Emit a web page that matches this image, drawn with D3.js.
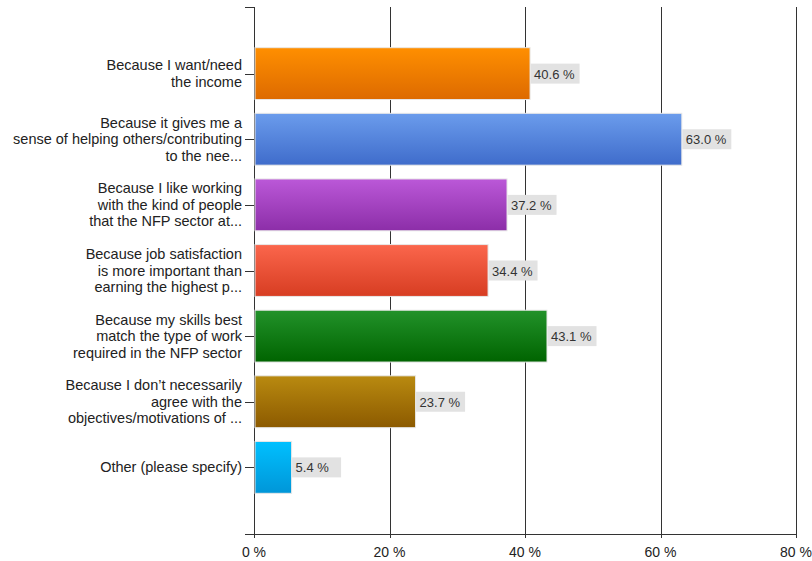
<!DOCTYPE html>
<html>
<head>
<meta charset="utf-8">
<script src="https://cdn.jsdelivr.net/npm/d3@7"></script>
<style>
  html, body { margin: 0; padding: 0; background: #fff; }
  svg { display: block; font-family: "Liberation Sans", Arial, sans-serif; }
</style>
</head>
<body>
<svg id="chart" width="812" height="561"></svg>
<script>
const categories = [
  ["Because I want/need", "the income"],
  ["Because it gives me a", "sense of helping others/contributing", "to the nee..."],
  ["Because I like working", "with the kind of people", "that the NFP sector at..."],
  ["Because job satisfaction", "is more important than", "earning the highest p..."],
  ["Because my skills best", "match the type of work", "required in the NFP sector"],
  ["Because I don\u2019t necessarily", "agree with the", "objectives/motivations of ..."],
  ["Other (please specify)"]
];
const values = [40.6, 63.0, 37.2, 34.4, 43.1, 23.7, 5.4];
const xTicks = [0, 20, 40, 60, 80];
const colorTop = ["#ff8f00", "#6b9cec", "#bb58d8", "#fb664c", "#22922a", "#b98a10", "#00c0ff"];
const colorBottom = ["#dd6a00", "#3f6ccb", "#8c2ea8", "#d73d22", "#006400", "#8c5a00", "#0096d8"];

const svg = d3.select("#chart");
const pLeft = 254, pRight = 796, pTop = 7, pBottom = 534;

const x = d3.scaleLinear().domain([0, 80]).range([pLeft, pRight]);
const y = d3.scaleBand().domain(d3.range(categories.length)).range([pTop, pBottom])
  .paddingInner(0.21).paddingOuter(0.62);

// gradients
const defs = svg.append("defs");
values.forEach((v, i) => {
  const g = defs.append("linearGradient").attr("id", "g" + i)
    .attr("x1", 0).attr("y1", 0).attr("x2", 0).attr("y2", 1);
  g.append("stop").attr("offset", "0%").attr("stop-color", colorTop[i]);
  g.append("stop").attr("offset", "100%").attr("stop-color", colorBottom[i]);
});

// vertical gridlines
svg.append("g").selectAll("line").data(xTicks).join("line")
  .attr("x1", d => Math.round(x(d)) + 0.5).attr("x2", d => Math.round(x(d)) + 0.5)
  .attr("y1", pTop).attr("y2", pBottom + 4)
  .attr("stroke", "#333").attr("stroke-width", 1);

// x axis baseline
svg.append("line").attr("x1", pLeft - 9).attr("x2", pRight).attr("y1", pBottom + 0.5).attr("y2", pBottom + 0.5)
  .attr("stroke", "#333");
// top tick on y axis
svg.append("line").attr("x1", pLeft - 9).attr("x2", pLeft).attr("y1", pTop + 0.5).attr("y2", pTop + 0.5)
  .attr("stroke", "#333");

// x tick labels
svg.append("g").selectAll("text").data(xTicks).join("text")
  .attr("x", d => x(d)).attr("y", 557)
  .attr("text-anchor", "middle").attr("font-size", 14).attr("fill", "#222")
  .text(d => d + " %");

// y ticks
svg.append("g").selectAll("line").data(values).join("line")
  .attr("x1", pLeft - 9).attr("x2", pLeft)
  .attr("y1", (d, i) => Math.round(y(i) + y.bandwidth() / 2) + 0.5)
  .attr("y2", (d, i) => Math.round(y(i) + y.bandwidth() / 2) + 0.5)
  .attr("stroke", "#333");

// bars
svg.append("g").selectAll("rect").data(values).join("rect")
  .attr("x", x(0) + 1).attr("y", (d, i) => y(i))
  .attr("width", d => x(d) - x(0)).attr("height", y.bandwidth())
  .attr("fill", (d, i) => `url(#g${i})`)
  .attr("stroke", "#e8e8e8").attr("stroke-width", 1);

// value labels
const lab = svg.append("g").selectAll("g").data(values).join("g")
  .attr("transform", (d, i) => `translate(${x(d) + 1.5},${y(i) + y.bandwidth() / 2})`);
lab.append("rect").attr("x", 0).attr("y", -10).attr("width", 49).attr("height", 20)
  .attr("fill", "#e2e2e2");
lab.append("text").attr("x", 3.5).attr("y", 5).attr("font-size", 13).attr("fill", "#333")
  .text(d => d.toFixed(1) + " %");

// category labels
const lineH = 16.5;
const cg = svg.append("g").selectAll("text").data(categories).join("text")
  .attr("text-anchor", "end").attr("font-size", 14.5).attr("fill", "#222");
cg.each(function (lines, i) {
  const cy = y(i) + y.bandwidth() / 2;
  const startY = cy - (lines.length - 1) * lineH / 2 + 5;
  d3.select(this).selectAll("tspan").data(lines).join("tspan")
    .attr("x", 242).attr("y", (d, j) => startY + j * lineH).text(d => d);
});
</script>
</body>
</html>
